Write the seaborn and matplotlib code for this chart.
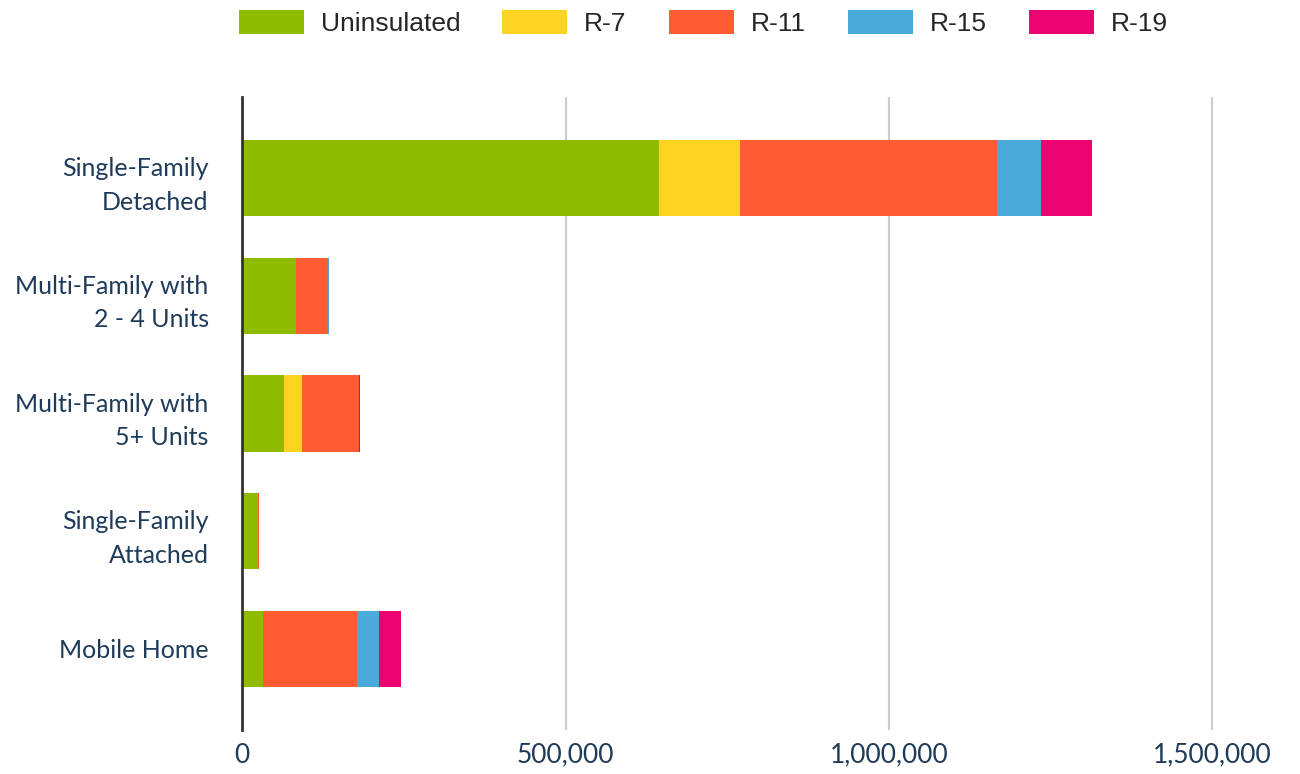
import numpy as np
import pandas as pd
import matplotlib
matplotlib.use("Agg")
import matplotlib.pyplot as plt
import seaborn as sns
from matplotlib.patches import Patch
from matplotlib.ticker import FuncFormatter

categories = ["Single-Family\nDetached", "Multi-Family with\n2 - 4 Units",
              "Multi-Family with\n5+ Units", "Single-Family\nAttached", "Mobile Home"]
series = ["Uninsulated", "R-7", "R-11", "R-15", "R-19"]
uninsulated = [644000, 83000, 65000, 25000, 33000]
r7 = [125000, 0, 28000, 0, 0]
r11 = [398000, 50000, 88000, 1000, 145000]
r15 = [68000, 800, 0, 0, 34000]
r19 = [79000, 800, 1500, 0, 34000]
colors = ["#8FBB00", "#FFD321", "#FF5C33", "#4AABDB", "#EB0470"]
xticks = [0, 500000, 1000000, 1500000]

sns.set_theme(style="white")
plt.rcParams["font.family"] = ["Lato", "DejaVu Sans"]

fig = plt.figure(figsize=(13, 7.74), dpi=100)
ax = fig.add_axes([0.1862, 0.0568, 0.8062, 0.8178])

values = [uninsulated, r7, r11, r15, r19]
cum = np.cumsum(np.array(values, dtype=float), axis=0)
for i in range(len(series) - 1, -1, -1):
    df = pd.DataFrame({"cat": categories, "val": cum[i]})
    sns.barplot(data=df, y="cat", x="val", orient="h", color=colors[i],
                saturation=1, width=0.65, ax=ax, linewidth=0, order=categories)

ax.set_xlim(0, 1620000)
ax.set_ylim(4.69, -0.69)
ax.set_xticks(xticks)
ax.xaxis.set_major_formatter(FuncFormatter(lambda v, p: f"{int(v):,}"))
ax.grid(axis="x", color="#CCCCCC", linewidth=1.5)
ax.set_axisbelow(True)
for s in ["top", "right", "bottom"]:
    ax.spines[s].set_visible(False)
ax.spines["left"].set_color("#333333")
ax.spines["left"].set_linewidth(2)
ax.set_xlabel("")
ax.set_ylabel("")
ax.tick_params(axis="both", length=0, colors="#1F3B5A")
ax.tick_params(axis="x", pad=9, labelsize=19)
ax.tick_params(axis="y", pad=24, labelsize=18)
for lbl in ax.get_yticklabels():
    lbl.set_linespacing(1.55)

handles = [Patch(facecolor=c, edgecolor="none") for c in colors]
fig.legend(handles, series, loc="upper center", bbox_to_anchor=(0.541, 1.018), ncol=5,
           frameon=False, prop={"family": "Liberation Sans", "size": 19},
           handlelength=2.46, handleheight=1.05, columnspacing=1.6, handletextpad=0.64)

fig.savefig("out.png", dpi=100)
